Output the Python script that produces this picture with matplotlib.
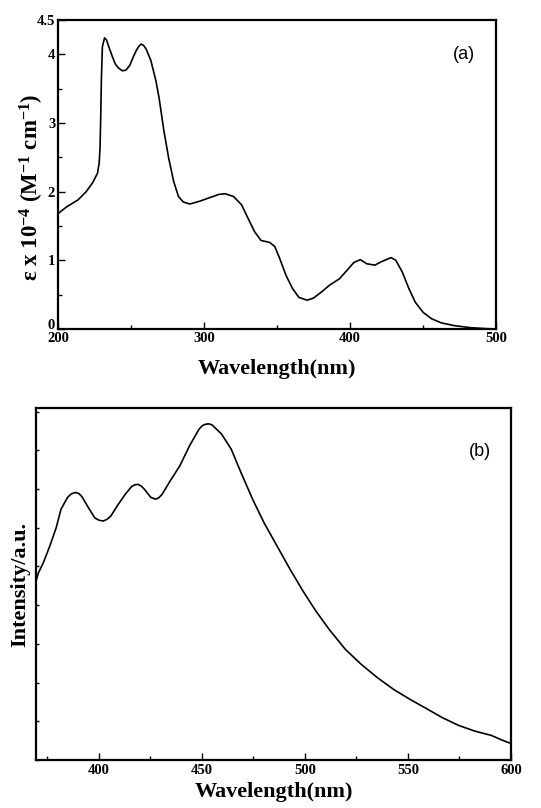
import matplotlib
matplotlib.use("Agg")
import matplotlib.pyplot as plt
import matplotlib.transforms as mtransforms
from matplotlib.ticker import MultipleLocator

# ---------------- data ----------------
# (a) absorption spectrum: wavelength (nm) vs epsilon x 10^-4 (M^-1 cm^-1)
abs_wl = [200, 206, 213.7, 219.3, 223.7, 227.1, 228.2, 228.8, 229.3, 229.7, 230.4,
          231.9, 233.2, 234.8, 237, 239.2, 241.5, 244.1, 246.5, 249.2, 251.5,
          253.7, 255.5, 257, 258.6, 260.3, 263.6, 267, 269.2,
          272.5, 275.8, 279.2, 282.5, 285.8, 290.2, 296.9, 303.5, 310.2, 314.6,
          320.2, 325.7, 330.2, 334.6, 339, 345.1, 348.5, 351.8, 356.2, 360.6, 365,
          370.6, 375, 380.5, 386.1, 392.7, 398.2, 402.7, 407.1, 411.5, 417, 421.5,
          428.1, 431.4, 435.8, 440.3, 444.7, 450.2, 455.8, 462.4, 471.2, 482.3,
          493.4, 500]
abs_eps = [1.68, 1.78, 1.88, 2.00, 2.13, 2.27, 2.42, 2.64, 3.13, 3.62, 4.11,
           4.24, 4.21, 4.11, 3.98, 3.86, 3.80, 3.76, 3.77, 3.84, 3.96,
           4.06, 4.12, 4.15, 4.13, 4.08, 3.91, 3.62, 3.37,
           2.89, 2.49, 2.15, 1.93, 1.85, 1.82, 1.86, 1.91, 1.96, 1.97,
           1.93, 1.81, 1.61, 1.42, 1.29, 1.26, 1.20, 1.03, 0.78, 0.59, 0.46,
           0.42, 0.45, 0.54, 0.64, 0.73, 0.86, 0.97, 1.01, 0.95, 0.93, 0.98,
           1.04, 1.00, 0.83, 0.59, 0.39, 0.24, 0.15, 0.09, 0.05, 0.02,
           0.005, 0.0]

# (b) emission spectrum: wavelength (nm) vs intensity (a.u.)
em_wl = [369.6, 370.8, 373.2, 376.3, 379.4, 381.7, 384.9, 386.7, 388.8, 390.4,
         391.9, 395, 398.1, 400.2, 402.3, 404.1, 405.9, 409, 412.9, 416, 417.6,
         419.1, 420.7, 422.2, 425.3, 427.7, 429.2, 430.8, 434.7, 439.4, 444.1,
         448.7, 450.3, 451.9, 453.5, 455, 459.6, 464.3, 469, 474.8, 480.3, 486.6,
         492.9, 499.2, 505.5, 511.8, 519.7, 527.5, 535.4, 543.2, 551.1, 559,
         566.8, 574.7, 582.5, 590.4, 596.7, 600]
em_int = [0.508, 0.532, 0.561, 0.608, 0.660, 0.712, 0.746, 0.756, 0.760, 0.757,
          0.748, 0.717, 0.688, 0.681, 0.679, 0.684, 0.693, 0.722, 0.755, 0.777, 0.782,
          0.783, 0.778, 0.769, 0.746, 0.741, 0.745, 0.755, 0.793, 0.836, 0.893,
          0.940, 0.950, 0.954, 0.955, 0.952, 0.926, 0.883, 0.817, 0.739, 0.673, 0.607,
          0.541, 0.479, 0.422, 0.371, 0.314, 0.271, 0.233, 0.200, 0.172, 0.146,
          0.120, 0.098, 0.082, 0.070, 0.054, 0.047]

abs_xticks = [200, 300, 400, 500]
abs_yticks = [0, 1, 2, 3, 4, 4.5]
abs_yticklabels = ["0", "1", "2", "3", "4", "4.5"]
em_xticks = [400, 450, 500, 550, 600]

# ---------------- style ----------------
plt.rcParams["font.family"] = ["Liberation Serif", "DejaVu Serif"]
plt.rcParams["font.weight"] = "bold"
plt.rcParams["mathtext.fontset"] = "custom"
plt.rcParams["mathtext.rm"] = "Liberation Serif:bold"
plt.rcParams["mathtext.it"] = "Liberation Serif:italic:bold"
plt.rcParams["mathtext.bf"] = "Liberation Serif:bold"

fig = plt.figure(figsize=(5.41, 8.08), dpi=100)
W, H = 541, 808

def add_axes(l, t, r, b):
    return fig.add_axes([l / W, 1 - b / H, (r - l) / W, (b - t) / H])

ax1 = add_axes(58, 20, 496, 329)
ax2 = add_axes(36, 408, 511, 760)

for ax in (ax1, ax2):
    for s in ax.spines.values():
        s.set_linewidth(1.6)
    ax.tick_params(which="both", direction="in", top=False, right=False,
                   labelsize=10.5, width=1.0)
    ax.tick_params(which="major", length=5)
    ax.tick_params(which="minor", length=3)

# --- panel (a)
ax1.plot(abs_wl, abs_eps, color="black", lw=1.2)
ax1.set_xlim(200, 500)
ax1.set_ylim(0, 4.5)
ax1.set_xticks(abs_xticks)
ax1.set_xticklabels([str(v) for v in abs_xticks], fontweight="bold")
ax1.xaxis.set_minor_locator(MultipleLocator(50))
ax1.set_yticks(abs_yticks)
ax1.set_yticklabels(abs_yticklabels, fontweight="bold")
ax1.yaxis.set_minor_locator(MultipleLocator(0.5))
ax1.tick_params(axis="x", pad=2)
ax1.tick_params(axis="y", pad=2)
# nudge the "0" label upwards, as in the original
lab0 = ax1.get_yticklabels()[0]
lab0.set_transform(lab0.get_transform() +
                   mtransforms.ScaledTranslation(0, 5 / 100, fig.dpi_scale_trans))
ax1.set_xlabel("Wavelength(nm)", fontsize=16, fontweight="bold")
ax1.xaxis.set_label_coords(0.5, -40 / 309)
ax1.xaxis.label.set_va("center")
ax1.set_ylabel("ε x 10$^{-4}$ (M$^{-1}$ cm$^{-1}$)", fontsize=16.5, fontweight="bold")
ax1.yaxis.set_label_coords(-26 / 438, (329 - 187) / 309)
ax1.yaxis.label.set_va("center")
ax1.text(478, 4.0, "(a)", fontsize=13, family="Liberation Sans",
         fontweight="normal", ha="center", va="center")

# --- panel (b)
ax2.plot(em_wl, em_int, color="black", lw=1.2)
ax2.set_xlim(369.6, 600)
ax2.set_ylim(0, 1)
ax2.set_xticks(em_xticks)
ax2.set_xticklabels([str(v) for v in em_xticks], fontweight="bold")
ax2.xaxis.set_minor_locator(MultipleLocator(25))
ax2.yaxis.set_major_locator(MultipleLocator(0.11))
ax2.yaxis.set_ticklabels([])
ax2.tick_params(axis="y", length=2)
ax2.tick_params(axis="x", pad=3)
ax2.set_xlabel("Wavelength(nm)", fontsize=16, fontweight="bold")
ax2.xaxis.set_label_coords(0.5, -32 / 352)
ax2.xaxis.label.set_va("center")
ax2.set_ylabel("Intensity/a.u.", fontsize=16, fontweight="bold")
ax2.yaxis.set_label_coords(-16 / 475, 0.5)
ax2.yaxis.label.set_va("center")
ax2.text(585, 0.875, "(b)", fontsize=13, family="Liberation Sans",
         fontweight="normal", ha="center", va="center")

fig.savefig("out.png", dpi=100)
